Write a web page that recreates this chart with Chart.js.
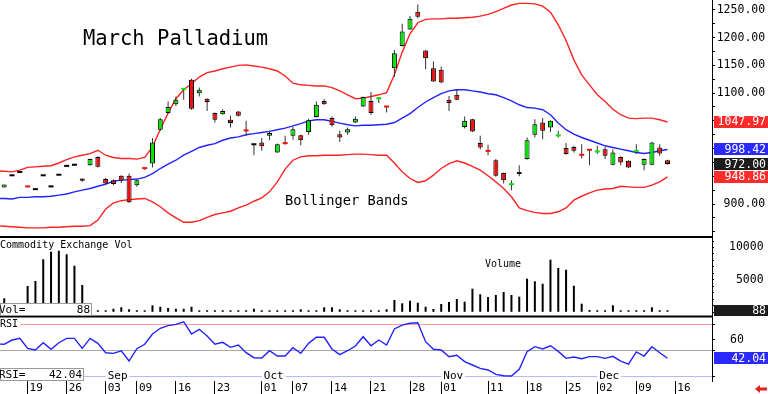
<!DOCTYPE html>
<html>
<head>
<meta charset="utf-8">
<title>March Palladium</title>
<script src="https://cdn.jsdelivr.net/npm/chart.js@4.4.1/dist/chart.umd.min.js"></script>
<style>
  html, body { margin: 0; padding: 0; background: #fff; }
  canvas { display: block; }
</style>
</head>
<body>
<canvas id="chart" width="768" height="394"></canvas>
<script>
// first entry is Aug 13 (x = -1), only its band / RSI lines reach the left edge
const firstIdx = -1;

// --- date axis ---
const tickIdx  = [3, 8, 13, 17, 22, 27, 33, 37, 42, 47, 52, 56, 62, 67, 72, 76, 81, 86];
const tickText = ["19", "26", "03", "09", "16", "23", "01", "07", "14", "21", "28", "01", "11", "18", "25", "02", "09", "16"];
const monthIdx  = [13, 33, 56, 76];
const monthText = ["Sep", "Oct", "Nov", "Dec"];

// price labels shown on the right axis (the rest sit under the value tags)
const priceLabels = [900, 1100, 1150, 1200, 1250];
const volLabels = [5000, 10000];
const rsiLevels = [25, 50, 75];

// --- daily prices ---
const openP = [null,
  930, 950, 956, 932, 925, 950, 930, 951, 967, 969,
  946, 970, 985, 945, 943, 951, 951, 934, 965, 973,
  1034, 1064, 1080, 1106, 1124, 1100, 1090, 1064, 1062, 1052,
  1067, 1033, 1006, 1011, 1023, 993, 1009, 1023, 1024, 1030,
  1057, 1086, 1055, 1026, 1029, 1047, 1076, 1086, 1089, 1075,
  1145, 1185, 1215, 1247, 1177, 1145, 1142, 1088, 1097, 1039,
  1053, 1010, 996, 979, 956, 934, 958, 981, 1025, 1047,
  1038, 1022, 1001, 1003, 988, 997, 993, 999, 971, 985,
  978, 994, 971, 971, 1002, 979];
const highP = [null,
  935, 950, 956, 932, 925, 950, 930, 951, 967, 969,
  946, 982, 986, 947, 944, 952, 955, 944, 965, 1019,
  1055, 1085, 1094, 1108, 1126, 1110, 1091, 1065, 1071, 1059,
  1068, 1050, 1007, 1019, 1032, 1009, 1023, 1039, 1025, 1054,
  1085, 1089, 1058, 1032, 1038, 1058, 1094, 1102, 1093, 1077,
  1178, 1225, 1239, 1260, 1178, 1157, 1148, 1095, 1107, 1058,
  1054, 1023, 1007, 981, 957, 943, 970, 1020, 1053, 1055,
  1051, 1032, 1010, 1005, 1008, 997, 1005, 1003, 999, 986,
  979, 1008, 982, 1012, 1008, 980];
const lowP = [null,
  930, 950, 956, 930, 925, 950, 930, 951, 967, 969,
  940, 969, 966, 934, 934, 938, 902, 931, 962, 966,
  1032, 1063, 1077, 1088, 1070, 1094, 1068, 1047, 1061, 1038,
  1058, 1023, 988, 996, 1015, 992, 1007, 1016, 1006, 1025,
  1056, 1079, 1040, 1012, 1025, 1046, 1075, 1061, 1082, 1065,
  1129, 1184, 1214, 1235, 1143, 1120, 1118, 1068, 1087, 1036,
  1030, 999, 988, 949, 937, 925, 950, 980, 1020, 1017,
  1030, 1020, 989, 993, 982, 970, 990, 981, 970, 970,
  965, 990, 961, 970, 987, 971];
const closeP = [null,
  935, 950, 956, 930, 925, 950, 930, 951, 967, 969,
  942, 981, 967, 937, 936, 942, 903, 943, 963, 1011,
  1053, 1075, 1088, 1107, 1072, 1106, 1084, 1052, 1068, 1046,
  1059, 1031, 1006, 1004, 1028, 1008, 1008, 1035, 1015, 1051,
  1079, 1080, 1042, 1020, 1035, 1054, 1093, 1064, 1090, 1074,
  1172, 1211, 1234, 1238, 1163, 1121, 1119, 1082, 1088, 1050,
  1031, 1002, 994, 951, 943, 935, 954, 1015, 1044, 1032,
  1050, 1023, 990, 996, 987, 996, 994, 987, 993, 975,
  966, 995, 981, 1011, 991, 972];

// --- Bollinger bands ---
const upperBand = [960,
  959, 958, 961, 966, 967, 968, 969, 974, 980, 985,
  988, 991, 997, 988, 984, 982, 982, 981, 984, 1003,
  1035, 1064, 1090, 1106, 1117, 1129, 1137, 1140, 1144, 1147,
  1150, 1151, 1149, 1147, 1144, 1140, 1131, 1118, 1115, 1114,
  1113, 1113, 1110, 1104, 1097, 1090, 1091, 1094, 1097, 1101,
  1133, 1174, 1207, 1227, 1233, 1234, 1234, 1235, 1235, 1236,
  1237, 1239, 1242, 1247, 1253, 1259, 1262, 1262, 1261, 1257,
  1246, 1223, 1195, 1160, 1133, 1115, 1097, 1085, 1071, 1061,
  1055, 1054, 1055, 1055, 1052, 1047.97];
const midBand = [910,
  910, 909, 912, 912, 913, 913, 914, 916, 918, 922,
  925, 928, 932, 936, 941, 943, 944, 945, 948, 955,
  964, 972, 979, 988, 995, 1002, 1006, 1009, 1015, 1019,
  1021, 1025, 1027, 1029, 1031, 1034, 1037, 1041, 1045, 1050,
  1052, 1052, 1049, 1046, 1043, 1041, 1042, 1042, 1043, 1044,
  1047, 1055, 1063, 1074, 1084, 1092, 1099, 1104, 1106, 1106,
  1104, 1102, 1099, 1097, 1092, 1086, 1079, 1074, 1073, 1070,
  1061, 1046, 1034, 1026, 1020, 1015, 1010, 1005, 1002, 999,
  996, 993, 991, 993, 996, 998.42];
const lowerBand = [861,
  860, 859, 858, 857, 857, 857, 858, 858, 859, 860,
  860, 861, 871, 891, 902, 906, 908, 909, 910, 904,
  895, 884, 875, 867, 867, 870, 876, 881, 884, 887,
  893, 898, 905, 911, 922, 940, 963, 979, 985, 987,
  987, 988, 988, 988, 989, 990, 990, 989, 988, 988,
  974, 958, 946, 939, 942, 952, 964, 973, 978, 974,
  968, 961, 951, 940, 928, 913, 893, 888, 885, 883,
  883, 886, 893, 907, 914, 920, 925, 927, 928, 932,
  931, 930, 930, 934, 940, 948.86];

// --- volume ---
const volume = [null,
  2160, null, null, 4060, 4830, 8180, 9350, 9500, 8950, 7190,
  4210, 300, 150, 150, 550, 770, 460, 150, 150, 1080,
  860, 660, 550, 550, 860, 150, 150, 150, 150, 150,
  150, 150, 550, 150, 150, 150, 150, 150, 460, 150,
  150, 770, 770, 460, 150, 150, 150, 150, 150, 460,
  1900, 1390, 1790, 1480, 860, 510, 1280, 1590, 2050, 1640,
  3640, 2780, 2360, 2670, 3130, 2670, 2410, 5180, 4780, 4410,
  8120, 6840, 6570, 4100, 1330, 350, 150, 150, 1080, 150,
  150, 150, 150, 770, 150, 88];

// --- RSI ---
const rsi = [55.8,
  55.5, 59.6, 61.2, 51.6, 50.0, 57.0, 50.7, 57.0, 61.2, 61.2,
  51.6, 61.2, 56.4, 47.4, 46.8, 49.3, 39.4, 51.3, 55.5, 65.4,
  70.9, 73.4, 74.7, 77.2, 65.4, 69.9, 63.5, 55.5, 57.4, 52.6,
  54.8, 47.4, 42.6, 42.3, 49.3, 44.2, 44.2, 52.2, 46.8, 56.4,
  62.2, 62.2, 51.0, 45.5, 49.3, 53.8, 62.8, 54.1, 59.6, 54.8,
  70.2, 74.0, 75.7, 76.2, 58.0, 50.7, 50.0, 43.6, 44.9, 38.8,
  35.6, 32.4, 30.8, 26.6, 25.3, 25.0, 31.4, 48.4, 53.2, 51.0,
  54.1, 48.7, 42.0, 43.3, 41.6, 43.6, 43.6, 42.0, 43.9, 39.4,
  36.5, 48.1, 44.2, 53.2, 47.4, 42.04];

const MONO = "'DejaVu Sans Mono', monospace";
const GREEN = "#00e400";
const RED = "#ee1010";
const BAND_RED = "#ff2222";
const BLUE = "#2222ff";

// --- build the library datasets from the arrays ---
const xOf = i => i + firstIdx;
const days = openP.map((o, i) => i).filter(i => openP[i] != null);
const bodies = days.map(i => ({ x: xOf(i), y: [Math.min(openP[i], closeP[i]), Math.max(openP[i], closeP[i])] }));
const bodyFill = days.map(i => closeP[i] > openP[i] ? GREEN : closeP[i] < openP[i] ? RED : "#000");
const bodyBorder = days.map(i => Math.abs(closeP[i] - openP[i]) > 2 ? 1 : 0);
const wicks = days.map(i => ({ x: xOf(i), y: [lowP[i], highP[i]] }));
const volBars = volume.map((v, i) => v == null ? null : { x: xOf(i), y: v }).filter(p => p);
const line = arr => arr.map((v, i) => ({ x: xOf(i), y: v }));

function rsiGridColor(v) {
  if (v === 75) return "#ff9c9c";
  if (v === 50) return "#a8a8a8";
  if (v === 25) return "#b8b8ff";
  return "rgba(0,0,0,0)";
}

function tag(ctx, y, text, bg, h) {
  ctx.fillStyle = bg;
  ctx.fillRect(714, Math.round(y - h / 2), 54, h);
  ctx.fillStyle = "#fff";
  ctx.textAlign = "right";
  ctx.textBaseline = "middle";
  ctx.fillText(text, 766, y + 0.5);
}

const overlay = {
  id: "overlay",
  beforeDatasetsDraw(chart) {
    const { ctx, scales } = chart;
    // month names sit on the lower RSI guide line
    const yM = scales.rsi.getPixelForValue(25);
    ctx.save();
    ctx.font = "11px " + MONO;
    ctx.textAlign = "center";
    ctx.textBaseline = "middle";
    monthText.forEach((m, k) => {
      const cx = scales.x.getPixelForValue(monthIdx[k]) + 12;
      const w = ctx.measureText(m).width + 4;
      ctx.fillStyle = "#fff";
      ctx.fillRect(cx - w / 2, yM - 6, w, 12);
      ctx.fillStyle = "#000";
      ctx.fillText(m, cx, yM + 0.5);
    });
    // "RSI" caption breaks the upper guide line
    ctx.font = "10px " + MONO;
    ctx.fillStyle = "#fff";
    ctx.fillRect(0, scales.rsi.top + 2, 20, 12);
    ctx.fillStyle = "#000";
    ctx.textAlign = "left";
    ctx.textBaseline = "alphabetic";
    ctx.fillText("RSI", 0, 327);
    ctx.restore();
  },
  afterDraw(chart) {
    const { ctx, chartArea, scales } = chart;
    const last = closeP.length - 1;
    ctx.save();

    // pane separators
    ctx.strokeStyle = "#000";
    ctx.lineWidth = 2;
    [scales.vol.top + 1, scales.rsi.top + 0.5].forEach(y => {
      ctx.beginPath();
      ctx.moveTo(0, y);
      ctx.lineTo(chartArea.right, y);
      ctx.stroke();
    });

    // captions
    ctx.fillStyle = "#000";
    ctx.textAlign = "left";
    ctx.textBaseline = "alphabetic";
    ctx.font = "20.5px " + MONO;
    ctx.fillText("March Palladium", 83, 44.5);
    ctx.font = "13.7px " + MONO;
    ctx.fillText("Bollinger Bands", 285, 205);
    ctx.font = "10px " + MONO;
    ctx.fillText("Commodity Exchange Vol", 0, 248);
    ctx.fillText("Volume", 485, 267);

    // left readout boxes
    ctx.font = "11px " + MONO;
    ctx.textBaseline = "middle";
    const readout = (top, w, name, val) => {
      ctx.fillStyle = "#fff";
      ctx.fillRect(0, top, w, 13);
      ctx.strokeStyle = "#999";
      ctx.lineWidth = 1;
      ctx.strokeRect(0.5, top + 0.5, w - 1, 12);
      ctx.fillStyle = "#000";
      ctx.textAlign = "left";
      ctx.fillText(name, -1, top + 7);
      ctx.textAlign = "right";
      ctx.fillText(val, w - 2, top + 7);
    };
    readout(303, 92, "Vol=", String(volume[last]));
    readout(368, 84, "RSI=", rsi[last].toFixed(2));

    // right value tags
    ctx.font = "11.5px " + MONO;
    const p = scales.price;
    tag(ctx, p.getPixelForValue(upperBand[last]), upperBand[last].toFixed(2), "#ff2a2a", 12);
    tag(ctx, p.getPixelForValue(midBand[last]), midBand[last].toFixed(2), "#2a2aff", 12);
    tag(ctx, p.getPixelForValue(closeP[last]), closeP[last].toFixed(2), "#1c1c1c", 12);
    tag(ctx, p.getPixelForValue(lowerBand[last]), lowerBand[last].toFixed(2), "#ff2a2a", 12);
    tag(ctx, scales.vol.getPixelForValue(volume[last]) - 1, String(volume[last]), "#1c1c1c", 11);
    tag(ctx, scales.rsi.getPixelForValue(rsi[last]), rsi[last].toFixed(2), "#2a2aff", 12);

    // little red arrow in the corner
    ctx.fillStyle = "#e8201c";
    ctx.beginPath();
    ctx.moveTo(755, 389);
    ctx.lineTo(760, 385);
    ctx.lineTo(760, 387.5);
    ctx.lineTo(767, 387.5);
    ctx.lineTo(767, 390.5);
    ctx.lineTo(760, 390.5);
    ctx.lineTo(760, 393);
    ctx.closePath();
    ctx.fill();
    ctx.restore();
  }
};

const tickFont = { family: MONO, size: 11.5 };
const noPad = s => { s.paddingTop = 0; s.paddingBottom = 0; s.paddingLeft = 0; s.paddingRight = 0; };

new Chart(document.getElementById("chart"), {
  type: "bar",
  data: {
    datasets: [
      { type: "bar", data: bodies, xAxisID: "x", yAxisID: "price", grouped: false,
        backgroundColor: bodyFill, borderColor: "#000", borderWidth: bodyBorder, borderSkipped: false,
        maxBarThickness: 5, minBarLength: 2, inflateAmount: 0 },
      { type: "bar", data: wicks, xAxisID: "x", yAxisID: "price", grouped: false,
        backgroundColor: "#333", borderWidth: 0, maxBarThickness: 1, inflateAmount: 0 },
      { type: "bar", data: volBars, xAxisID: "x", yAxisID: "vol", grouped: false,
        backgroundColor: "#000", borderWidth: 0, maxBarThickness: 2, minBarLength: 2, inflateAmount: 0 },
      { type: "line", data: line(rsi), xAxisID: "x", yAxisID: "rsi",
        borderColor: BLUE, borderWidth: 1.4, pointRadius: 0, tension: 0 },
      { type: "line", data: line(upperBand), xAxisID: "x", yAxisID: "price",
        borderColor: BAND_RED, borderWidth: 1.4, pointRadius: 0, tension: 0 },
      { type: "line", data: line(midBand), xAxisID: "x", yAxisID: "price",
        borderColor: BLUE, borderWidth: 1.4, pointRadius: 0, tension: 0 },
      { type: "line", data: line(lowerBand), xAxisID: "x", yAxisID: "price",
        borderColor: BAND_RED, borderWidth: 1.4, pointRadius: 0, tension: 0 }
    ]
  },
  options: {
    responsive: false,
    animation: false,
    devicePixelRatio: 1,
    layout: { padding: { left: 0, right: 2, top: 0, bottom: 0 } },
    plugins: { legend: { display: false }, tooltip: { enabled: false } },
    scales: {
      x: {
        type: "linear", position: "bottom", min: -0.54, max: 90.7, offset: false,
        afterBuildTicks: s => { s.ticks = tickIdx.map(v => ({ value: v })); },
        afterFit: s => { s.height = 13; noPad(s); },
        grid: { drawOnChartArea: false, offset: false, tickLength: 13, color: "#000", lineWidth: 1 },
        border: { display: false },
        ticks: {
          autoSkip: false, maxRotation: 0, align: "start", labelOffset: 2, padding: -12.4,
          color: "#000", font: { family: MONO, size: 11 },
          callback: v => { const k = tickIdx.indexOf(v); return k < 0 ? "" : tickText[k]; }
        }
      },
      price: {
        type: "linear", position: "right", stack: "panes", stackWeight: 236,
        min: 842.3, max: 1268,
        afterBuildTicks: s => { const t = []; for (let v = 850; v <= 1250; v += 25) t.push({ value: v }); s.ticks = t; },
        afterFit: s => { s.width = 54; noPad(s); },
        grid: { drawOnChartArea: false, tickLength: 3, color: "#000" },
        border: { color: "#000", width: 1 },
        ticks: {
          autoSkip: false, padding: 1.7, color: "#000", font: tickFont,
          callback: v => priceLabels.includes(v) ? v.toFixed(2).padStart(7, " ") : ""
        }
      },
      vol: {
        type: "linear", position: "right", stack: "panes", stackWeight: 80,
        min: -571, max: 11773,
        afterBuildTicks: s => { const t = []; for (let v = 0; v <= 11000; v += 1000) t.push({ value: v }); s.ticks = t; },
        afterFit: s => { s.width = 54; noPad(s); },
        grid: { drawOnChartArea: false, tickLength: 2, color: "#000" },
        border: { color: "#000", width: 1 },
        ticks: {
          autoSkip: false, padding: 15, color: "#000", font: tickFont,
          callback: v => volLabels.includes(v) ? String(v).padStart(5, " ") : ""
        }
      },
      rsi: {
        type: "linear", position: "right", stack: "panes", stackWeight: 65,
        min: 20.2, max: 82.7,
        afterBuildTicks: s => { s.ticks = [25, 50, 60, 75].map(v => ({ value: v })); },
        afterFit: s => { s.width = 54; noPad(s); },
        grid: { drawOnChartArea: true, tickLength: 3, tickColor: "#000", lineWidth: 1,
                color: c => rsiGridColor(c.tick ? c.tick.value : null) },
        border: { color: "#000", width: 1 },
        ticks: {
          autoSkip: false, padding: 15, color: "#000", font: tickFont,
          callback: v => v === 60 ? "60" : ""
        }
      }
    }
  },
  plugins: [overlay]
});
</script>
</body>
</html>
